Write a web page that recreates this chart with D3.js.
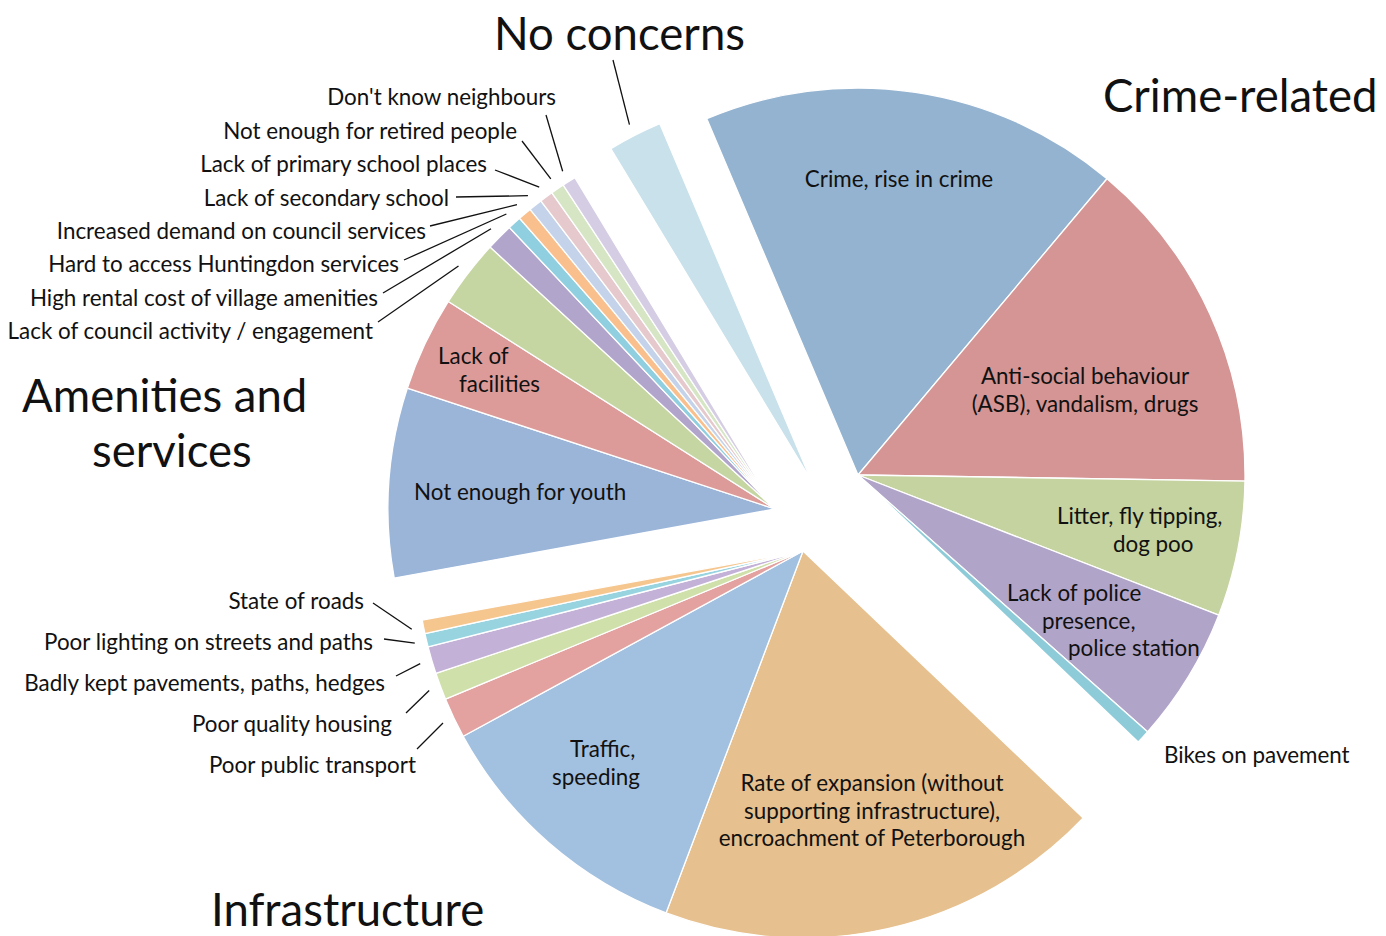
<!DOCTYPE html>
<html><head><meta charset="utf-8">
<script src="https://cdn.jsdelivr.net/npm/d3@7"></script>
<style>
html,body{margin:0;padding:0;background:#fff;overflow:hidden}
text{font-family:Lato,"Open Sans",sans-serif;fill:#111}
</style>
</head><body>
<svg id="chart" width="1386" height="936"></svg>
<script>
// ---------- DATA ----------
const categories = [
  "Crime, rise in crime",
  "Anti-social behaviour (ASB), vandalism, drugs",
  "Litter, fly tipping, dog poo",
  "Lack of police presence, police station",
  "Bikes on pavement",
  "Rate of expansion (without supporting infrastructure), encroachment of Peterborough",
  "Traffic, speeding",
  "Poor public transport",
  "Poor quality housing",
  "Badly kept pavements, paths, hedges",
  "Poor lighting on streets and paths",
  "State of roads",
  "Not enough for youth",
  "Lack of facilities",
  "Lack of council activity / engagement",
  "High rental cost of village amenities",
  "Hard to access Huntingdon services",
  "Increased demand on council services",
  "Lack of secondary school",
  "Lack of primary school places",
  "Not enough for retired people",
  "Don't know neighbours",
  "No concerns"
];
const values = [31, 25, 10, 10, 1, 33, 20, 3, 2, 2, 1, 1, 14, 7, 5, 2, 1, 1, 1, 1, 1, 1, 4];
const groupNames = ["Crime-related", "Infrastructure", "Amenities and services", "No concerns"];
const groupOf = [0,0,0,0,0, 1,1,1,1,1,1,1, 2,2,2,2,2,2,2,2,2,2, 3];

// ---------- STYLE / LAYOUT ----------
const palette = [
  "#94b3d0","#d49594","#c4d39f","#b1a4c9","#8ecbd8",
  "#e6c08e","#a2c0df","#e3a1a0","#d0e0aa","#c3b1d7","#97d4e0","#f6c68f",
  "#9bb5d9","#dc9b99","#c6d6a2","#b1a5cb","#8fcfe0","#f9c08e","#c5d3ea","#e6c9cc","#d6e5c4","#d5cde3",
  "#c8e1ea"
];
const W = 1386, H = 936, R = 387;
const groupCenter = {
  "Crime-related": [858, 475],
  "Infrastructure": [803, 551],
  "Amenities and services": [775, 509],
  "No concerns": [811, 480]
};
const startDeg = -23;
const LABEL_SIZE = 22.4, LH = 27.5, TITLE_SIZE = 45.5;

const svg = d3.select("#chart");
const color = d3.scaleOrdinal(categories, palette);
const data = categories.map((c, i) => ({category: c, value: values[i], group: groupNames[groupOf[i]]}));
const a0 = startDeg * Math.PI / 180;
const pie = d3.pie().sort(null).value(d => d.value).startAngle(a0).endAngle(a0 + 2 * Math.PI);
const arcs = pie(data);
const arc = d3.arc().innerRadius(0).outerRadius(R);
const leaderArc = d3.arc().innerRadius(R + 12).outerRadius(R + 12);
const byCat = new Map(arcs.map(d => [d.data.category, d]));

svg.append("g").selectAll("path").data(arcs).join("path")
  .attr("transform", d => `translate(${groupCenter[d.data.group]})`)
  .attr("d", arc)
  .attr("fill", d => color(d.data.category))
  .attr("stroke", "#fff")
  .attr("stroke-width", 1.3)
  .attr("stroke-linejoin", "round");

// labels: lines as [text, x], first baseline y
const labels = [
  {cat: categories[0], y: 187, anchor: "middle", lines: [["Crime, rise in crime", 899]]},
  {cat: categories[1], y: 384, anchor: "middle", lines: [["Anti-social behaviour", 1085], ["(ASB), vandalism, drugs", 1085]]},
  {cat: categories[2], y: 524, anchor: "start", lines: [["Litter, fly tipping,", 1057], ["dog poo", 1113]]},
  {cat: categories[3], y: 601, anchor: "start", lines: [["Lack of police", 1007], ["presence,", 1042], ["police station", 1068]]},
  {cat: categories[4], y: 763, anchor: "start", lines: [["Bikes on pavement", 1164]]},
  {cat: categories[5], y: 791, anchor: "middle", lines: [["Rate of expansion (without", 872], ["supporting infrastructure),", 872], ["encroachment of Peterborough", 872]]},
  {cat: categories[6], y: 757, anchor: "start", lines: [["Traffic,", 570], ["speeding", 552]]},
  {cat: categories[7], y: 773, anchor: "end", lines: [["Poor public transport", 416]], leader: [417, 749]},
  {cat: categories[8], y: 732, anchor: "end", lines: [["Poor quality housing", 392]], leader: [406, 713]},
  {cat: categories[9], y: 691, anchor: "end", lines: [["Badly kept pavements, paths, hedges", 385]], leader: [396, 676]},
  {cat: categories[10], y: 650, anchor: "end", lines: [["Poor lighting on streets and paths", 373]], leader: [384, 639]},
  {cat: categories[11], y: 609, anchor: "end", lines: [["State of roads", 364]], leader: [373, 603]},
  {cat: categories[12], y: 500, anchor: "start", lines: [["Not enough for youth", 414]]},
  {cat: categories[13], y: 364, anchor: "start", lines: [["Lack of", 438], ["facilities", 459]]},
  {cat: categories[14], y: 339, anchor: "end", lines: [["Lack of council activity / engagement", 373]], leader: [378, 322]},
  {cat: categories[15], y: 306, anchor: "end", lines: [["High rental cost of village amenities", 378]], leader: [383, 293]},
  {cat: categories[16], y: 272, anchor: "end", lines: [["Hard to access Huntingdon services", 399]], leader: [404, 260]},
  {cat: categories[17], y: 239, anchor: "end", lines: [["Increased demand on council services", 426]], leader: [430, 226]},
  {cat: categories[18], y: 206, anchor: "end", lines: [["Lack of secondary school", 449]], leader: [456, 197]},
  {cat: categories[19], y: 172, anchor: "end", lines: [["Lack of primary school places", 487]], leader: [495, 170]},
  {cat: categories[20], y: 139, anchor: "end", lines: [["Not enough for retired people", 517]], leader: [522, 141]},
  {cat: categories[21], y: 105, anchor: "end", lines: [["Don't know neighbours", 556]], leader: [546, 115]},
  {cat: categories[22], y: 0, anchor: "start", lines: [], leader: [613, 60]}
];

const lg = svg.append("g");
labels.forEach(l => {
  l.lines.forEach((ln, i) => {
    lg.append("text")
      .attr("x", ln[1]).attr("y", l.y + i * LH)
      .attr("text-anchor", l.anchor)
      .attr("font-size", LABEL_SIZE)
      .text(ln[0]);
  });
  if (l.leader) {
    const d = byCat.get(l.cat);
    const c = groupCenter[d.data.group];
    const p = leaderArc.centroid(d);
    lg.append("line")
      .attr("x1", l.leader[0]).attr("y1", l.leader[1])
      .attr("x2", c[0] + p[0]).attr("y2", c[1] + p[1])
      .attr("stroke", "#111").attr("stroke-width", 1.3);
  }
});

const titles = [
  ["No concerns", 494, 50],
  ["Crime-related", 1103, 112],
  ["Amenities and", 22, 412],
  ["services", 92, 467],
  ["Infrastructure", 211, 926]
];
svg.append("g").selectAll("text").data(titles).join("text")
  .attr("x", d => d[1]).attr("y", d => d[2])
  .attr("font-size", TITLE_SIZE)
  .text(d => d[0]);
</script>
</body></html>
